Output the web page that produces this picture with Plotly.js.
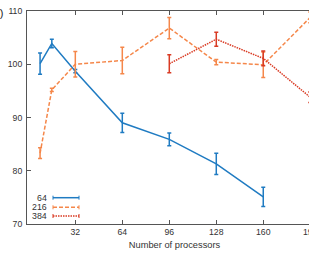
<!DOCTYPE html>
<html>
<head>
<meta charset="utf-8">
<script src="https://cdn.plot.ly/plotly-3.0.1.min.js"></script>
<style>html,body{margin:0;padding:0;overflow:hidden;background:#fff}</style>
</head>
<body>
<div id="chart"></div>
<script>
// Data
const x64 = [8, 16, 32, 64, 96, 128, 160];
const y64 = [100.1, 103.9, 98.7, 89.0, 85.9, 81.3, 75.1];
const e64 = [2.0, 0.8, 0.3, 1.8, 1.2, 2.0, 1.8];

const x216 = [8, 16, 32, 64, 96, 128, 160, 192];
const y216 = [83.3, 95.2, 100.0, 100.7, 106.8, 100.4, 99.9, 108.8];
const e216 = [1.0, 0.3, 2.4, 2.5, 2.0, 0.5, 2.4, 1.0];

const x384 = [96, 128, 160, 192];
const y384 = [100.1, 104.7, 101.1, 93.8];
const e384 = [1.7, 1.3, 1.4, 1.0];

const seriesNames = ["64", "216", "384"];
const xTicks = [32, 64, 96, 128, 160, 192];
const yTicks = [70, 80, 90, 100, 110];

const colors = ["#1f7bc2", "#f5874a", "#d93b24"];
const dashes = ["solid", "4px,2px", "1.5px,1px"];
const FONT = "Liberation Sans, Arial, sans-serif";

function tr(x, y, e, i) {
  return {
    x: x, y: y, type: "scatter", mode: "lines", name: seriesNames[i],
    line: {color: colors[i], width: 1.5, dash: dashes[i]},
    error_y: {type: "data", array: e, visible: true, color: colors[i], thickness: 1.5, width: 2},
    showlegend: false, cliponaxis: false
  };
}

const W = 325, H = 253;
const mL = 27, mR = 3, mT = 11, mB = 29;
const pw = W - mL - mR, ph = H - mT - mB;
function px(p) { return (p - mL) / pw; }
function py(p) { return 1 - (p - mT) / ph; }

const annotations = [];
const shapes = [];
const legY = [197.7, 207.3, 216];
for (let i = 0; i < 3; i++) {
  annotations.push({
    xref: "paper", yref: "paper", x: px(49), y: py(legY[i]), xanchor: "right", yanchor: "middle",
    text: seriesNames[i], showarrow: false, font: {family: FONT, size: 8.8, color: "#333"}
  });
  shapes.push({type: "line", xref: "paper", yref: "paper", x0: px(53), x1: px(79), y0: py(legY[i]), y1: py(legY[i]),
    line: {color: colors[i], width: 1.5, dash: dashes[i]}});
  shapes.push({type: "line", xref: "paper", yref: "paper", x0: px(53), x1: px(53), y0: py(legY[i] - 2), y1: py(legY[i] + 2),
    line: {color: colors[i], width: 1}});
  shapes.push({type: "line", xref: "paper", yref: "paper", x0: px(79), x1: px(79), y0: py(legY[i] - 2), y1: py(legY[i] + 2),
    line: {color: colors[i], width: 1}});
}
annotations.push({
  xref: "paper", yref: "paper", x: px(4.5), y: py(13), xanchor: "right", yanchor: "middle",
  text: "(b)", showarrow: false, font: {family: FONT, size: 11, color: "#222"}
});

const layout = {
  width: W, height: H,
  margin: {l: mL, r: mR, t: mT, b: mB, pad: 0},
  paper_bgcolor: "#fff", plot_bgcolor: "#fff",
  font: {family: FONT, size: 8.7, color: "#333"},
  xaxis: {
    range: [-0.9, 200], tickvals: xTicks, ticktext: xTicks.map(String),
    ticks: "inside", ticklen: 4, tickcolor: "#555", tickwidth: 1,
    showline: true, linecolor: "#555", linewidth: 1, mirror: "ticks",
    showgrid: false, zeroline: false,
    title: {text: "Number of processors",
      font: {family: "Liberation Sans Narrow, Liberation Sans, Arial, sans-serif", size: 9.3, color: "#333"}, standoff: 5}
  },
  yaxis: {
    range: [70, 110], tickvals: yTicks, ticktext: yTicks.map(String),
    ticks: "inside", ticklen: 4, tickcolor: "#555", tickwidth: 1,
    showline: true, linecolor: "#555", linewidth: 1, mirror: "ticks",
    showgrid: false, zeroline: false, ticklabelstandoff: 2
  },
  annotations: annotations, shapes: shapes, showlegend: false
};

Plotly.newPlot("chart", [tr(x64, y64, e64, 0), tr(x216, y216, e216, 1), tr(x384, y384, e384, 2)], layout,
  {displayModeBar: false, staticPlot: true});
</script>
</body>
</html>
